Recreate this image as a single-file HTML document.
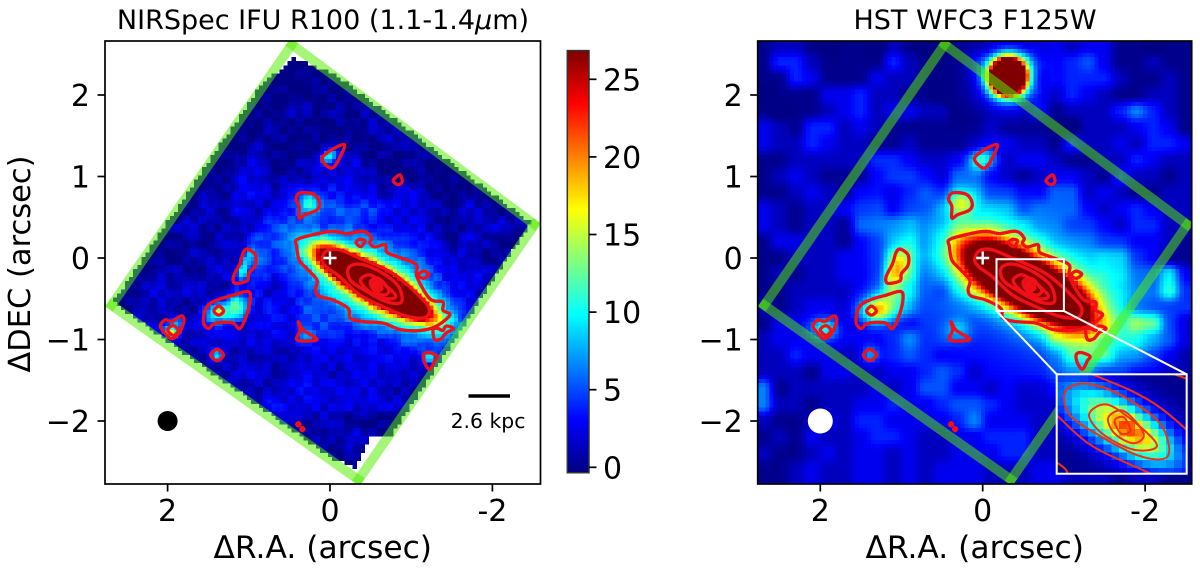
<!DOCTYPE html>
<html lang="en">
<head>
<meta charset="utf-8">
<title>NIRSpec IFU and HST WFC3 maps</title>
<style>
html,body{margin:0;padding:0;background:#fff;width:1200px;height:569px;overflow:hidden}
svg{display:block}
text{font-family:"DejaVu Sans","Liberation Sans",sans-serif;fill:#000}
</style>
</head>
<body>
<svg id="fig" xmlns="http://www.w3.org/2000/svg" width="1200" height="569" viewBox="0 0 1200 569"></svg>
<script>
// ---------- chart data (arcsec / flux units) ----------
const xTickValues = [2, 0, -2];
const xTickLabels = ['2', '0', '-2'];
const yTickValues = [2, 1, 0, -1, -2];
const yTickLabels = ['2', '1', '0', '\u22121', '\u22122'];
const colorbarTicks = [0, 5, 10, 15, 20, 25];
const colorbarRange = [-0.35, 26.85];

// Background flux, one character per 0.2" cell (base 36)
const leftBackground = [
"000000000000000000000000000","000000000000000000000000000","000000000000110111000000000",
"000000000000111112110000000","000000000002212121111000000","000000000021111122211100000",
"000000000211111112221110000","000000002311223311121100000","000000013312223321110110000",
"000000213323444332331011000","000001313123445554332132110","000023121233323433332122321",
"000112122433233344443132100","001112222633334444443321221","011221231533344444443233111",
"012323213323344443332222111","012221322243544444443221200","123122322343554444433322000",
"012122333333444332333221000","001222222222333333322200000","000012223322332333221100000",
"000000122223433332220000000","000000012243333333300000000","000000000233222111000000000",
"000000000001122321000000000","000000000000011210000000000","000000000000000000000000000"
];
const rightBackground = [
"122101102100110112323311011","144211114210122332345311211","114311132210012111344421121",
"011133422110001012243211221","101123423322001113122246421","321442321111112111102223431",
"322432211211123322142232443","112222244322355233211224322","123211134432553212332142212",
"112321332343664433552321122","321223442334556645553234322","321221555533556665544324422",
"133221346633556666555443321","112223348744566666666774311","121223348844566666666775583",
"112222347743566666666665594","212332344544444444445554444","133332233344433333346659942",
"233333334644333333666456542","224332234543333333477744321","222133223345423333455332211",
"612222232355332322333221221","622122334334554322222122211","211232443333463332222112211",
"121322344322334442211221122","211232332322333442212211111","112322332323332223322212211"
];
// Fine pixel mottling of the IFU map, one character per 0.1" cell (0-4, 2 = no change)
const leftMottle = [
"2412031423013","1303420140324","3021142304120","0432013214203",
"2140324021341","3204110342012","1023431201430","4310220413021","0241302134102","2034124012341","3120403214023"
];

// Sources: [ra, dec, sigmaMajor, sigmaMinor, positionAngle, peak]
const leftSources = [
[-0.25,-0.14,0.30,0.10,-29,45],[-0.85,-0.50,0.30,0.10,-29,45],[-0.55,-0.33,0.25,0.12,-29,30],
[-0.55,-0.33,0.75,0.28,-29,14],[0.02,1.24,0.10,0.055,50,8],[0.24,0.66,0.09,0.08,0,7],
[1.06,-0.10,0.14,0.05,70,7],[1.08,-0.20,0.05,0.05,0,4],[1.25,-0.65,0.20,0.10,20,9],
[1.37,-0.65,0.05,0.05,0,7],[1.15,-0.60,0.07,0.12,0,4],[1.97,-0.88,0.10,0.07,0,7],
[1.95,-0.92,0.04,0.04,0,9],[1.88,-0.80,0.05,0.05,0,4],[1.39,-1.19,0.05,0.05,0,8],
[0.28,-0.95,0.07,0.05,0,5],[-1.23,-1.23,0.05,0.05,0,7]
];
const rightSources = [
[-0.25,-0.14,0.35,0.19,-29,34],[-0.85,-0.50,0.35,0.19,-29,34],
[-0.55,-0.33,0.85,0.30,-29,12],[-0.60,-0.40,1.10,0.60,-29,3],[-0.315,2.22,0.12,0.12,0,100],
[-0.315,2.22,0.24,0.24,0,12],[0.02,1.20,0.10,0.08,50,6],[0.26,0.66,0.12,0.10,0,8],
[1.05,-0.15,0.18,0.09,70,9],[1.25,-0.62,0.20,0.13,15,11],[1.30,-0.65,0.08,0.08,0,4],
[1.95,-0.87,0.12,0.09,0,8],[1.39,-1.19,0.08,0.08,0,5],[0.30,-0.90,0.12,0.10,0,4]
];
const insetSources = [
[-0.56,-0.33,0.34,0.13,-33,12],[-0.62,-0.36,0.20,0.075,-33,6],
[-0.62,-0.34,0.07,0.05,-33,3],[-0.74,-0.44,0.12,0.08,-33,3]
];

// IFU footprint and valid-data outline (ra, dec)
const footprintCorners = [[0.47,2.62],[-2.52,0.41],[-0.35,-2.72],[2.69,-0.58]];
const dataOutline = [[2.66,-0.53],[0.86,2.10],[0.45,2.45],[-0.05,2.26],[-2.47,0.43],[-0.74,-2.21],[-0.50,-2.21],[-0.30,-2.58],[0.0,-2.44],[2.62,-0.58]];

// Contours (ra, dec)
const contourLines = [
[[0.41,0.225],[0.205,0.287],[-0.04,0.328],[-0.205,0.30],[-0.41,0.328],[-0.51,0.246],[-0.49,0.184],[-0.55,0.135],[-0.68,0.164],[-0.70,0.07],[-0.82,0.02],[-1.06,-0.08],[-1.07,-0.23],[-1.23,-0.50],[-1.39,-0.54],[-1.39,-0.64],[-1.475,-0.70],[-1.31,-0.836],[-1.11,-0.89],[-0.86,-0.877],[-0.66,-0.80],[-0.41,-0.78],[-0.25,-0.74],[-0.225,-0.62],[-0.04,-0.516],[0.14,-0.467],[0.18,-0.39],[0.16,-0.27],[0.29,-0.127],[0.38,-0.025],[0.41,0.14]],
[[0.10,-0.025],[0.04,0.09],[-0.12,0.10],[-0.37,-0.004],[-0.66,-0.127],[-0.86,-0.25],[-1.11,-0.475],[-1.22,-0.62],[-1.17,-0.73],[-0.94,-0.713],[-0.66,-0.60],[-0.37,-0.455],[-0.12,-0.23],[0.04,-0.115]],
[[-0.225,-0.127],[-0.35,-0.074],[-0.58,-0.148],[-0.83,-0.33],[-0.88,-0.537],[-0.70,-0.537],[-0.42,-0.393],[-0.25,-0.27]],
[[-0.377,-0.27],[-0.50,-0.21],[-0.705,-0.352],[-0.81,-0.475],[-0.66,-0.496],[-0.46,-0.393]],
[[-0.50,-0.29],[-0.60,-0.25],[-0.725,-0.393],[-0.66,-0.455],[-0.54,-0.393]],
[[-0.54,-0.31],[-0.60,-0.29],[-0.64,-0.377],[-0.58,-0.393]],
[[-0.18,1.39],[-0.04,1.34],[0.10,1.23],[0.04,1.13],[-0.04,1.11],[-0.12,1.23]],
[[-0.78,0.95],[-0.86,1.02],[-0.89,0.94],[-0.84,0.90]],
[[0.37,0.80],[0.20,0.78],[0.13,0.68],[0.16,0.59],[0.31,0.53],[0.38,0.49],[0.38,0.635],[0.42,0.72]],
[[1.02,0.11],[0.92,0.04],[0.92,-0.09],[1.0,-0.19],[1.02,-0.28],[1.17,-0.31],[1.19,-0.23],[1.11,-0.07],[1.07,0.06]],
[[1.02,-0.41],[0.98,-0.475],[1.02,-0.68],[1.11,-0.865],[1.20,-0.795],[1.41,-0.80],[1.50,-0.865],[1.56,-0.78],[1.52,-0.60],[1.39,-0.515],[1.19,-0.455]],
[[1.43,-0.65],[1.37,-0.59],[1.31,-0.65],[1.37,-0.70]],
[[1.82,-0.71],[1.80,-0.78],[1.86,-0.925],[1.95,-0.99],[2.03,-0.925],[2.09,-0.835],[2.03,-0.76],[1.95,-0.78],[1.89,-0.74]],
[[2.0,-0.88],[1.93,-0.83],[1.87,-0.89],[1.93,-0.95]],
[[1.47,-1.19],[1.39,-1.12],[1.31,-1.19],[1.39,-1.26]],
[[0.39,-0.78],[0.33,-0.885],[0.16,-0.995],[0.29,-1.02],[0.41,-1.0],[0.37,-0.885]],
[[-1.27,-0.877],[-1.29,-1.0],[-1.37,-0.99],[-1.43,-0.92],[-1.52,-0.865],[-1.43,-0.835],[-1.39,-0.89],[-1.33,-0.865]],
[[-1.15,-1.19],[-1.21,-1.16],[-1.32,-1.205],[-1.29,-1.26],[-1.23,-1.365],[-1.17,-1.295]],
[[0.41,-2.04],[0.39,-2.02],[0.37,-2.04],[0.39,-2.06]],
[[0.36,-2.10],[0.34,-2.08],[0.32,-2.10],[0.34,-2.12]],
[[-1.09,-0.21],[-1.15,-0.16],[-1.22,-0.20],[-1.15,-0.25]],
[[-0.32,0.19],[-0.37,0.23],[-0.43,0.21],[-0.38,0.14]]
];
const beamCenter = [2, -2];
const centreMarker = [0, 0];
const zoomBox = {raFrom: -0.17, raTo: -1.0, decFrom: -0.015, decTo: -0.65};
const cellSize = 0.05;

// ---------- helpers ----------
const NS = 'http://www.w3.org/2000/svg';
const fig = document.getElementById('fig');
function mk(tag, attrs, parent) {
  const el = document.createElementNS(NS, tag);
  for (const k in attrs) el.setAttribute(k, attrs[k]);
  (parent || fig).appendChild(el);
  return el;
}
function clip01(v) { return Math.max(0, Math.min(1, v)); }
function jet(t) {
  const r = clip01(1.5 - Math.abs(4 * t - 3));
  const g = clip01(1.5 - Math.abs(4 * t - 2));
  const b = clip01(1.5 - Math.abs(4 * t - 1));
  return 'rgb(' + Math.round(r * 255) + ',' + Math.round(g * 255) + ',' + Math.round(b * 255) + ')';
}
function colorOf(v) { return jet(clip01((v - colorbarRange[0]) / (colorbarRange[1] - colorbarRange[0]))); }
function sourceFlux(list, ra, dec) {
  let sum = 0;
  for (const s of list) {
    const t = s[4] * Math.PI / 180, dx = -(ra - s[0]), dy = dec - s[1];
    const u = dx * Math.cos(t) + dy * Math.sin(t), w = -dx * Math.sin(t) + dy * Math.cos(t);
    sum += s[5] * Math.exp(-0.5 * (u * u / (s[2] * s[2]) + w * w / (s[3] * s[3])));
  }
  return sum;
}
function bgFlux(rows, ra, dec) {
  const fi = (2.7 - ra) / 0.2, fj = (2.6 - dec) / 0.2;
  const i = Math.floor(fi), j = Math.floor(fj);
  let a = fi - i, b = fj - j;
  a = a * a * (3 - 2 * a);
  b = b * b * (3 - 2 * b);
  const at = (c, r) => {
    const row = rows[Math.max(0, Math.min(rows.length - 1, r))];
    return parseInt(row[Math.max(0, Math.min(row.length - 1, c))], 36);
  };
  return (1 - a) * (1 - b) * at(i, j) + a * (1 - b) * at(i + 1, j) + (1 - a) * b * at(i, j + 1) + a * b * at(i + 1, j + 1);
}
function mottleAt(ra, dec) {
  const r = leftMottle[Math.floor((3 - dec) / 0.1) % leftMottle.length];
  return parseInt(r[Math.floor((3 - ra) / 0.1) % r.length], 10) - 2;
}
function inside(poly, x, y) {
  let c = false;
  for (let i = 0, j = poly.length - 1; i < poly.length; j = i++) {
    const xi = poly[i][0], yi = poly[i][1], xj = poly[j][0], yj = poly[j][1];
    if ((yi > y) !== (yj > y) && x < (xj - xi) * (y - yi) / (yj - yi) + xi) c = !c;
  }
  return c;
}
function smoothPath(pts, X, Y) {
  const p = pts.map(q => [X(q[0]), Y(q[1])]), n = p.length;
  let d = 'M' + p[0][0].toFixed(1) + ' ' + p[0][1].toFixed(1);
  for (let i = 0; i < n; i++) {
    const a = p[(i - 1 + n) % n], b = p[i], c = p[(i + 1) % n], e = p[(i + 2) % n];
    d += 'C' + (b[0] + (c[0] - a[0]) / 6).toFixed(1) + ' ' + (b[1] + (c[1] - a[1]) / 6).toFixed(1) + ' ' +
      (c[0] - (e[0] - b[0]) / 6).toFixed(1) + ' ' + (c[1] - (e[1] - b[1]) / 6).toFixed(1) + ' ' +
      c[0].toFixed(1) + ' ' + c[1].toFixed(1);
  }
  return d + 'Z';
}

const defs = mk('defs', {});
function clipRect(id, x, y, w, h) {
  const cp = mk('clipPath', {id: id}, defs);
  mk('rect', {x: x, y: y, width: w, height: h}, cp);
}

// ---------- one panel ----------
function drawPanel(cfg) {
  const box = cfg.box;
  const X = ra => cfg.x0 - ra * 81.2;
  const Y = dec => 258 - dec * 81.5;
  clipRect(cfg.id + '-clip', box.l, box.t, box.r - box.l, box.b - box.t);
  const g = mk('g', {'clip-path': 'url(#' + cfg.id + '-clip)'});
  
  

  const heat = mk('g', {'shape-rendering': 'crispEdges'}, g);
  
  
  const w = cellSize * 81.2 + 0.4, h = cellSize * 81.5 + 0.4;
  const raMax = (cfg.x0 - box.l) / 81.2, decMax = (258 - box.t) / 81.5;
  const nx = Math.ceil((box.r - box.l) / (cellSize * 81.2)), ny = Math.ceil((box.b - box.t) / (cellSize * 81.5));
  for (let j = 0; j < ny; j++) {
    for (let i = 0; i < nx; i++) {
      const ra = raMax - (i + 0.5) * cellSize, dec = decMax - (j + 0.5) * cellSize;
      if (cfg.mask && !inside(cfg.mask, ra, dec)) continue;
      let base = Math.max(-0.2, (bgFlux(cfg.background, ra, dec) - 1) * cfg.bgGain);
      if (cfg.mottle) base = Math.max(-0.2, base + cfg.mottle(ra, dec) * 0.4);
      const v = base + sourceFlux(cfg.sources, ra, dec);
      const cell = mk('rect', {x: (X(ra) - w / 2).toFixed(2), y: (Y(dec) - h / 2).toFixed(2), width: w.toFixed(2), height: h.toFixed(2), fill: colorOf(v)}, heat);
      
      
    }
  }

  footprintCorners.forEach((c, i) => {
    const d = footprintCorners[(i + 1) % 4];
    const len = Math.hypot(X(d[0]) - X(c[0]), Y(d[1]) - Y(c[1]));
    const ux = (X(d[0]) - X(c[0])) / len * 4.5, uy = (Y(d[1]) - Y(c[1])) / len * 4.5;
    const seg = mk('line', {x1: X(c[0]) - ux, y1: Y(c[1]) - uy, x2: X(d[0]) + ux, y2: Y(d[1]) + uy,
      stroke: 'rgb(85,236,0)', 'stroke-opacity': 0.53, 'stroke-width': 9.5}, g);
    
    
  });

  contourLines.forEach(pts => {
    const isSmall = pts.length === 4 && Math.abs(pts[0][0] - pts[2][0]) < 0.1;
    const c = mk('path', {d: smoothPath(pts, X, Y), fill: isSmall ? '#f01018' : 'none', stroke: '#f01018', 'stroke-width': cfg.contourWidth, 'stroke-linejoin': 'round'}, g);
    
    
  });

  const plus = mk('path', {d: 'M' + (X(centreMarker[0]) - 6.5) + ' ' + Y(centreMarker[1]) + 'h13M' + X(centreMarker[0]) + ' ' + (Y(centreMarker[1]) - 6.5) + 'v13',
    stroke: '#fff', 'stroke-width': 2.4, fill: 'none'}, g);
  
  

  const beam = mk('circle', {cx: X(beamCenter[0]), cy: Y(beamCenter[1]), r: cfg.beamR, fill: cfg.beamFill}, g);
  
  

  if (cfg.after) cfg.after(g, X, Y);

  const frame = mk('rect', {x: box.l, y: box.t, width: box.r - box.l, height: box.b - box.t, fill: 'none', stroke: '#000', 'stroke-width': 1.7});
  
  

  xTickValues.forEach((v, i) => {
    const t = mk('line', {x1: X(v), x2: X(v), y1: box.b, y2: box.b + 7.5, stroke: '#000', 'stroke-width': 1.7});
    
    
    const lab = mk('text', {x: X(v), y: 521, 'font-size': 30, 'text-anchor': 'middle'});
    lab.textContent = xTickLabels[i];
    
    
  });
  yTickValues.forEach((v, i) => {
    const t = mk('line', {x1: box.l - 7.5, x2: box.l, y1: Y(v), y2: Y(v), stroke: '#000', 'stroke-width': 1.7});
    
    
    const lab = mk('text', {x: box.l - 15, y: Y(v) + 11, 'font-size': 30, 'text-anchor': 'end'});
    lab.textContent = yTickLabels[i];
    
    
  });
  const xt = mk('text', {x: (box.l + box.r) / 2, y: 558, 'font-size': 31.3, 'text-anchor': 'middle'});
  xt.textContent = '\u0394R.A. (arcsec)';
  
  
}

// ---------- left panel ----------
drawPanel({
  id: 'nirspec-panel', x0: 330, box: {l: 105, r: 540.5, t: 41, b: 484},
  background: leftBackground, sources: leftSources, mask: dataOutline, mottle: mottleAt, bgGain: 1.1,
  contourWidth: 3.3, beamR: 10, beamFill: '#000',
  after: function (g) {
    const bar = mk('line', {x1: 468.5, x2: 510, y1: 396, y2: 396, stroke: '#000', 'stroke-width': 3.6}, g);
    
    
    const lab = mk('text', {x: 488, y: 428, 'font-size': 20.4, 'text-anchor': 'middle'}, g);
    lab.textContent = '2.6 kpc';
    
    
  }
});

// ---------- right panel ----------
drawPanel({
  id: 'hst-panel', x0: 982.7, box: {l: 757.7, r: 1191.7, t: 41, b: 484},
  background: rightBackground, sources: rightSources, mask: null, bgGain: 1.3,
  contourWidth: 3.3, beamR: 12.5, beamFill: '#fff',
  after: function (g, X, Y) {
    const bx0 = X(zoomBox.raFrom), bx1 = X(zoomBox.raTo), by0 = Y(zoomBox.decFrom), by1 = Y(zoomBox.decTo);
    const ix0 = 1056.7, iy0 = 374.3, scale = 156.6;
    const IX = ra => ix0 + (zoomBox.raFrom - ra) * scale;
    const IY = dec => iy0 + (zoomBox.decFrom - dec) * scale;
    const ix1 = IX(zoomBox.raTo), iy1 = IY(zoomBox.decTo);

    const zb = mk('rect', {x: bx0, y: by0, width: bx1 - bx0, height: by1 - by0, fill: 'none', stroke: '#fff', 'stroke-width': 2}, g);
    
    
    const c1 = mk('line', {x1: bx0, y1: by1, x2: ix0, y2: iy0, stroke: '#fff', 'stroke-width': 2}, g);
    
    
    const c2 = mk('line', {x1: bx1, y1: by1, x2: ix1, y2: iy0, stroke: '#fff', 'stroke-width': 2}, g);
    
    

    clipRect('inset-clip', ix0, iy0, ix1 - ix0, iy1 - iy0);
    const ins = mk('g', {'clip-path': 'url(#inset-clip)'}, g);
    
    
    const bg = mk('rect', {x: ix0, y: iy0, width: ix1 - ix0, height: iy1 - iy0, fill: colorOf(0)}, ins);
    
    
    const sz = cellSize * scale + 0.4;
    for (let ra = zoomBox.raFrom - cellSize / 2; ra > zoomBox.raTo - cellSize; ra -= cellSize) {
      for (let dec = zoomBox.decFrom - cellSize / 2; dec > zoomBox.decTo - cellSize; dec -= cellSize) {
        const cell = mk('rect', {x: (IX(ra) - sz / 2).toFixed(2), y: (IY(dec) - sz / 2).toFixed(2), width: sz.toFixed(2), height: sz.toFixed(2),
          fill: colorOf(sourceFlux(insetSources, ra, dec)), 'shape-rendering': 'crispEdges'}, ins);
        
        
      }
    }
    contourLines.slice(0, 6).forEach(pts => {
      const c = mk('path', {d: smoothPath(pts, IX, IY), fill: 'none', stroke: '#f03010', 'stroke-width': 2}, ins);
      
      
    });
    const fr = mk('rect', {x: ix0, y: iy0, width: ix1 - ix0, height: iy1 - iy0, fill: 'none', stroke: '#fff', 'stroke-width': 2}, g);
    
    
  }
});

// ---------- colorbar ----------
const cbY = v => 467.3 - v * 15.52;
const cbG = mk('g', {'shape-rendering': 'crispEdges'});


for (let v = colorbarRange[0]; v < colorbarRange[1]; v += 0.1) {
  const s = mk('rect', {x: 567.3, y: (cbY(v + 0.1) - 0.3).toFixed(2), width: 21.7, height: 2.2, fill: colorOf(v + 0.05)}, cbG);
  
  
}
const cbFrame = mk('rect', {x: 567.3, y: cbY(colorbarRange[1]), width: 21.7, height: cbY(colorbarRange[0]) - cbY(colorbarRange[1]), fill: 'none', stroke: '#333', 'stroke-width': 1.5});


colorbarTicks.forEach(v => {
  const t = mk('line', {x1: 589, x2: 596.5, y1: cbY(v), y2: cbY(v), stroke: '#000', 'stroke-width': 1.7});
  
  
  const lab = mk('text', {x: 603, y: cbY(v) + 11, 'font-size': 30});
  lab.textContent = String(v);
  
  
});

// ---------- titles ----------
const t1 = mk('text', {x: 323, y: 29, 'font-size': 27, 'text-anchor': 'middle'});
t1.appendChild(document.createTextNode('NIRSpec IFU R100 (1.1-1.4'));
const mu = mk('tspan', {'font-style': 'italic'}, t1);
mu.textContent = '\u03bc';
t1.appendChild(document.createTextNode('m)'));


const t2 = mk('text', {x: 975, y: 29, 'font-size': 27, 'text-anchor': 'middle'});
t2.textContent = 'HST WFC3 F125W';


const yt = mk('text', {x: 0, y: 0, 'font-size': 30.5, 'text-anchor': 'middle', transform: 'translate(30,264) rotate(-90)'});
yt.textContent = '\u0394DEC (arcsec)';


</script>
</body>
</html>
